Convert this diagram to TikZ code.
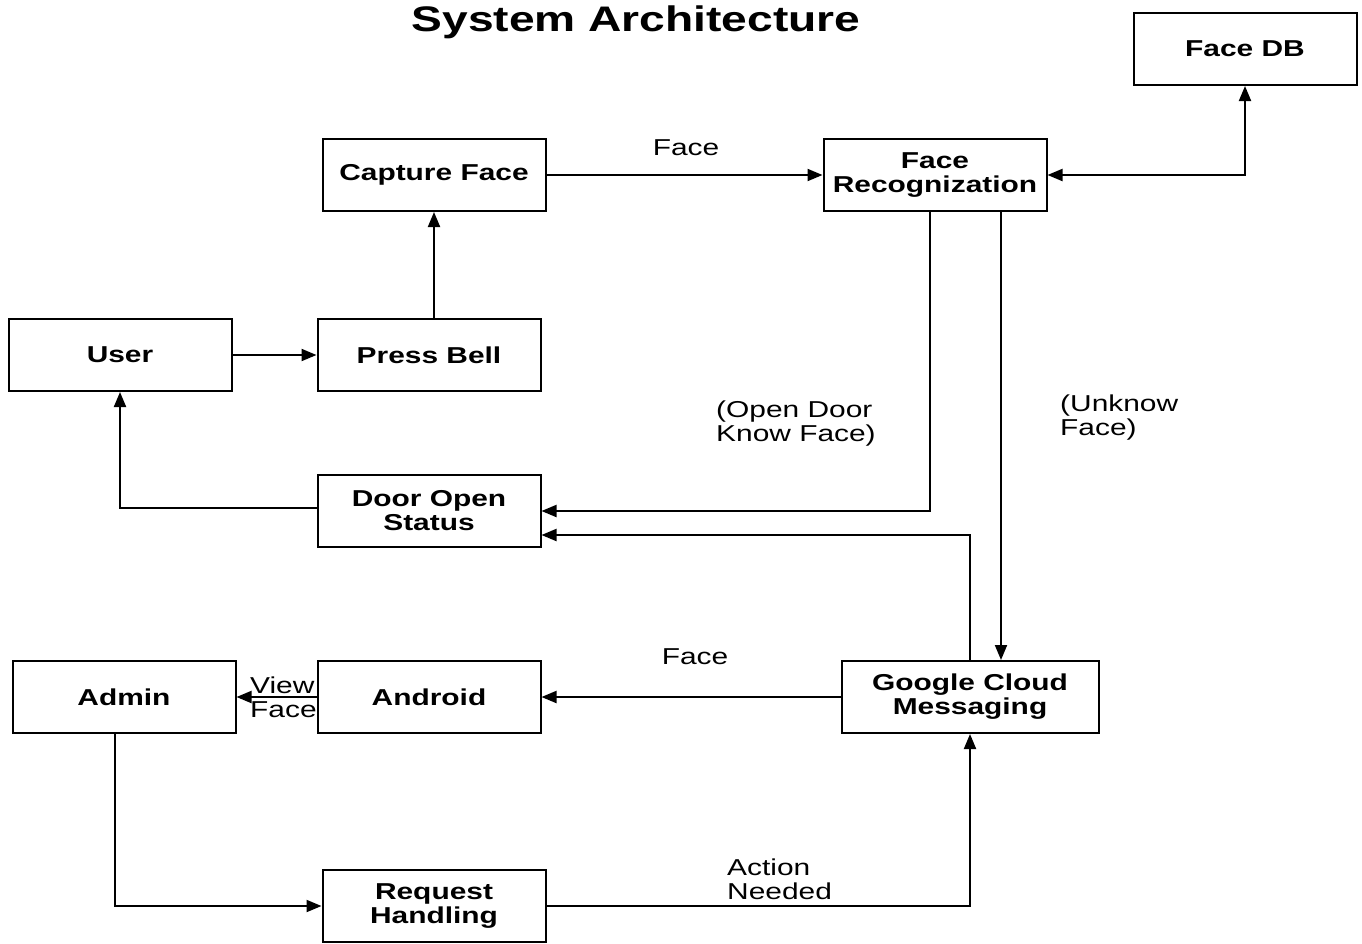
\documentclass[tikz,border=0pt]{standalone}
\usepackage{fontspec}
\setmainfont{Liberation Sans}[FakeStretch=1.3]
\usetikzlibrary{arrows.meta,calc}
\tikzset{
  box/.style={draw=black, line width=2pt, minimum width=223pt, minimum height=72pt,
    inner sep=0pt, align=center, font=\fontsize{23}{24}\selectfont\bfseries},
  conn/.style={line width=2pt, -{Triangle[length=15pt,width=12pt]}},
  lbl/.style={font=\fontsize{23}{24}\selectfont, inner sep=0pt},
}
\begin{document}
\begin{tikzpicture}[x=1pt,y=-1pt]
\useasboundingbox (0,0) rectangle (1362,943);
\node[font=\fontsize{35.5}{36}\selectfont\bfseries, inner sep=0pt] (title) at (636,22) {System Architecture};

\node[box] (db)   at (1245,49)  {Face DB};
\node[box] (cf)   at (434,175)  {Capture Face};
\node[box] (fr)   at (935,175)  {Face\\Recognization};
\node[box] (user) at (120,355)  {User};
\node[box] (pb)   at (429,355)  {Press Bell};
\node[box] (dos)  at (429,511)  {Door Open\\Status};
\node[box] (admin) at (124,697) {Admin};
\node[box] (and)  at (429,697)  {Android};
\node[box, minimum width=257pt] (gcm) at (970,697) {Google Cloud\\Messaging};
\node[box] (rh)   at (434,906)  {Request\\Handling};

% connectors
\draw[conn] (user.east) -- (pb.west);
\draw[conn] (cf.south |- pb.north) -- (cf.south);
\draw[conn] (cf.east) -- (fr.west);
\draw[line width=2pt, {Triangle[length=15pt,width=12pt]}-{Triangle[length=15pt,width=12pt]}]
  (fr.east) -- (fr.east -| db.south) -- (db.south);
\coordinate (frA) at ($(fr.south)+(-5,0)$);
\coordinate (frB) at ($(fr.south)+(66,0)$);
\draw[conn] (frA) -- (frA |- dos.east) -- (dos.east);
\draw[conn] (frB) -- (frB |- gcm.north);
\coordinate (dosB) at ($(dos.east)+(0,24)$);
\draw[conn] (gcm.north) -- (gcm.north |- dosB) -- (dosB);
\coordinate (dosW) at ($(dos.west)+(0,-3)$);
\draw[conn] (dosW) -- (dosW -| user.south) -- (user.south);
\draw[conn] (gcm.west) -- (and.east);
\draw[conn] (and.west) -- (admin.east);
\coordinate (adS) at ($(admin.south)+(-9,0)$);
\draw[conn] (adS) -- (adS |- rh.west) -- (rh.west);
\draw[conn] (rh.east) -- (rh.east -| gcm.south) -- (gcm.south);

% labels
\node[lbl] (l1) at (686,148) {Face};
\node[lbl, anchor=west, align=left] (l2) at (716,424) {(Open Door\\Know Face)};
\node[lbl, anchor=west, align=left] (l3) at (1060,418) {(Unknow\\Face)};
\node[lbl] (l4) at (695,657) {Face};
\node[lbl, anchor=west, align=left] (l5) at (250,697) {View\\Face};
\node[lbl, anchor=west, align=left] (l6) at (727,879) {Action\\Needed};
\end{tikzpicture}
\end{document}
